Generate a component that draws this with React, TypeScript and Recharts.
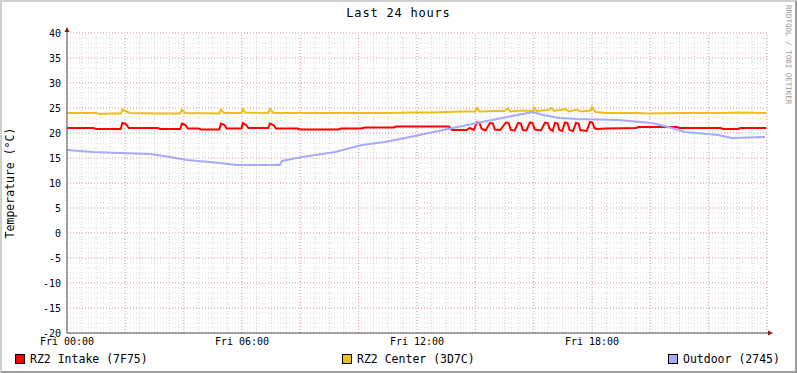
import React from 'react';
import { LineChart, Line, XAxis, YAxis, ReferenceLine, ReferenceDot } from 'recharts';

// hours since Fri 00:00 and temperatures
const intakeHours = [0, 0.9, 1.0, 1.84, 1.9, 2.02, 2.12, 3.1, 3.2, 3.88, 3.94, 4.06, 4.14, 4.5, 4.6, 5.22, 5.28, 5.4, 5.47, 5.98, 6.03, 6.14, 6.22, 6.9, 6.96, 7.08, 7.16, 7.9, 8.0, 9.3, 9.4, 10.1, 10.2, 11.2, 11.3, 13.1, 13.2, 13.7, 13.8, 13.95, 14.05, 14.14, 14.22, 14.35, 14.5, 14.6, 14.67, 14.85, 15.05, 15.14, 15.22, 15.35, 15.46, 15.56, 15.63, 15.75, 15.87, 15.96, 16.04, 16.25, 16.39, 16.48, 16.55, 16.65, 16.73, 16.82, 16.88, 16.98, 17.07, 17.16, 17.23, 17.35, 17.45, 17.54, 17.6, 17.82, 17.93, 18.02, 18.08, 18.15, 18.5, 19.5, 19.6, 20.9, 21.0, 22.4, 22.5, 23.0, 23.1, 23.97];
const intakeTemps = [21.0, 21.0, 20.8, 20.8, 22.0, 21.8, 21.0, 21.0, 20.8, 20.8, 21.9, 21.6, 20.9, 20.9, 20.7, 20.7, 21.9, 21.6, 20.9, 20.9, 22.0, 21.6, 21.0, 21.0, 21.9, 21.6, 20.9, 20.9, 20.7, 20.7, 20.9, 20.9, 21.1, 21.1, 21.3, 21.3, 20.6, 20.6, 21.0, 20.6, 22.1, 22.0, 20.8, 20.5, 22.0, 21.9, 20.7, 20.6, 22.1, 22.0, 20.6, 20.5, 22.0, 21.9, 20.6, 20.5, 22.1, 22.0, 20.7, 20.5, 22.1, 22.0, 20.8, 20.4, 22.0, 21.9, 20.6, 20.4, 22.1, 22.0, 20.6, 20.4, 22.0, 21.9, 20.6, 20.4, 22.2, 22.1, 21.0, 20.8, 20.9, 21.0, 21.2, 21.2, 21.0, 21.0, 20.8, 20.8, 21.0, 21.0];

const centerHours = [0, 1.0, 1.1, 1.5, 1.86, 1.9, 2.0, 2.15, 3.0, 3.88, 3.94, 4.05, 5.22, 5.28, 5.38, 5.98, 6.03, 6.12, 6.9, 6.96, 7.08, 9.0, 11.0, 11.8, 12.5, 13.0, 13.5, 14.0, 14.06, 14.15, 14.6, 15.0, 15.1, 15.2, 15.6, 15.98, 16.02, 16.1, 16.5, 16.6, 16.7, 17.1, 17.2, 17.5, 17.6, 17.95, 18.0, 18.12, 18.5, 19.5, 20.0, 21.0, 22.5, 23.0, 23.97];
const centerTemps = [24.0, 24.0, 23.8, 23.9, 23.9, 24.7, 24.4, 24.0, 23.9, 23.9, 24.7, 24.0, 23.9, 24.7, 24.0, 24.0, 24.8, 24.1, 24.0, 24.8, 24.0, 24.0, 24.0, 24.1, 24.1, 24.2, 24.3, 24.3, 25.0, 24.3, 24.4, 24.4, 24.9, 24.3, 24.5, 24.4, 25.1, 24.4, 24.6, 25.0, 24.4, 24.8, 24.3, 24.7, 24.3, 24.5, 25.2, 24.2, 24.0, 24.0, 23.9, 24.0, 24.0, 24.1, 24.0];

const outdoorHours = [0, 0.89, 1.82, 2.85, 3.53, 4.11, 4.9, 5.83, 7.3, 7.37, 8.06, 9.19, 10.11, 10.9, 11.93, 12.89, 14.06, 15.09, 15.98, 16.32, 16.9, 17.49, 18.89, 20.06, 20.61, 21.19, 22.32, 22.8, 23.93];
const outdoorTemps = [16.6, 16.2, 16.0, 15.8, 15.2, 14.6, 14.2, 13.6, 13.6, 14.4, 15.2, 16.2, 17.6, 18.2, 19.4, 20.6, 22.0, 23.2, 24.2, 23.6, 23.0, 22.8, 22.6, 22.0, 21.2, 20.2, 19.6, 19.0, 19.2];

const xTickHours = [0, 6, 12, 18];
const xTickLabels = ['Fri 00:00', 'Fri 06:00', 'Fri 12:00', 'Fri 18:00'];
const yTicks = [-20, -15, -10, -5, 0, 5, 10, 15, 20, 25, 30, 35, 40];
const minorY = Array.from({ length: 61 }, (_, i) => i - 20);
const minorX = Array.from({ length: 49 }, (_, i) => i / 2);
const majorX = [0, 2, 4, 6, 8, 10, 12, 14, 16, 18, 20, 22, 24];

const legendItems = [
  { label: 'RZ2 Intake (7F75)', color: '#ff0000', left: 15 },
  { label: 'RZ2 Center (3D7C)', color: '#eac117', left: 342 },
  { label: 'Outdoor (2745)', color: '#a9a9f9', left: 668 },
];

const toPoints = (hs: number[], vs: number[]) => hs.map((h, i) => ({ h, v: vs[i] }));

const mono = '"DejaVu Sans Mono", monospace';

const UpArrow = (p: any) => (
  <g>
    <line x1={p.cx} y1={p.cy} x2={p.cx} y2={p.cy - 3} stroke="#555" />
    <polygon points={`${p.cx - 2.5},${p.cy - 1} ${p.cx + 2.5},${p.cy - 1} ${p.cx},${p.cy - 6}`} fill="#8b1a1a" />
  </g>
);

const RightArrow = (p: any) => (
  <g>
    <line x1={p.cx} x2={p.cx + 3} y1={p.cy} y2={p.cy} stroke="#555" />
    <polygon points={`${p.cx + 1},${p.cy - 2.5} ${p.cx + 1},${p.cy + 2.5} ${p.cx + 6},${p.cy}`} fill="#8b1a1a" />
  </g>
);

const App = () => {
  return (
    <div
      style={{
        position: 'absolute', left: 0, top: 0, width: 797, height: 373, boxSizing: 'border-box',
        background: '#fff', borderTop: '2px solid #cfcfcf', borderLeft: '2px solid #cfcfcf',
        borderRight: '2px solid #9c9c9c', borderBottom: '2px solid #9c9c9c', fontFamily: mono,
      }}
    >
      <div style={{ position: 'absolute', left: -2, top: -2 }}>
        <LineChart width={797} height={373} margin={{ top: 33, right: 30, bottom: 0, left: 0 }}>
          {minorY.map((v) => (
            <ReferenceLine key={'my' + v} y={v} stroke="#d4d4d4" strokeDasharray="1 2" />
          ))}
          {minorX.map((v) => (
            <ReferenceLine key={'mx' + v} x={v} stroke="#d4d4d4" strokeDasharray="1 2" />
          ))}
          {yTicks.map((v) => (
            <ReferenceLine key={'My' + v} y={v} stroke="#e3a3a3" strokeDasharray="1 2" />
          ))}
          {majorX.map((v) => (
            <ReferenceLine key={'Mx' + v} x={v} stroke="#e3a3a3" strokeDasharray="1 2" />
          ))}
          <XAxis
            dataKey="h"
            type="number"
            domain={[0, 24]}
            ticks={xTickHours}
            tickFormatter={(v: number) => xTickLabels[xTickHours.indexOf(v)]}
            allowDuplicatedCategory={false}
            height={40}
            tickSize={2}
            tickMargin={3}
            tickLine={false}
            axisLine={{ stroke: '#555' }}
            tick={{ fontSize: 10, fill: '#000', fontFamily: mono }}
          />
          <YAxis
            dataKey="v"
            type="number"
            domain={[-20, 40]}
            ticks={yTicks}
            width={67}
            tickSize={4}
            tickMargin={2}
            tickLine={false}
            axisLine={{ stroke: '#555' }}
            tick={{ fontSize: 10, fill: '#000', fontFamily: mono }}
          />
          <Line data={toPoints(intakeHours, intakeTemps)} dataKey="v" type="linear" stroke="#ff0000" strokeWidth={2} dot={false} isAnimationActive={false} />
          <Line data={toPoints(centerHours, centerTemps)} dataKey="v" type="linear" stroke="#eac117" strokeWidth={2} dot={false} isAnimationActive={false} />
          <Line data={toPoints(outdoorHours, outdoorTemps)} dataKey="v" type="linear" stroke="#a9a9f9" strokeWidth={2} dot={false} isAnimationActive={false} />
          <ReferenceDot x={0} y={40} r={0} ifOverflow="visible" shape={UpArrow} />
          <ReferenceDot x={24} y={-20} r={0} ifOverflow="visible" shape={RightArrow} />
        </LineChart>
      </div>

      <div style={{ position: 'absolute', left: -2, top: 3, width: 797, textAlign: 'center', fontSize: 12, letterSpacing: 0.8, lineHeight: '16px', color: '#000' }}>
        Last 24 hours
      </div>

      <div style={{ position: 'absolute', left: 8, top: 181, width: 0, height: 0 }}>
        <div style={{ position: 'absolute', transform: 'translate(-50%, -50%) rotate(-90deg)', whiteSpace: 'nowrap', fontSize: 11.5, lineHeight: '14px', color: '#000' }}>
          Temperature (°C)
        </div>
      </div>

      <div style={{ position: 'absolute', left: 791, top: 3, transformOrigin: '0 0', transform: 'rotate(90deg)', whiteSpace: 'nowrap', fontSize: 7.5, lineHeight: '9px', color: '#999', letterSpacing: 0 }}>
        RRDTOOL / TOBI OETIKER
      </div>

      {legendItems.map((it) => (
        <div key={it.label} style={{ position: 'absolute', left: it.left - 2, top: 350, display: 'flex', alignItems: 'center', fontSize: 11.5, lineHeight: '14px', color: '#000', whiteSpace: 'nowrap' }}>
          <span style={{ display: 'inline-block', width: 8, height: 8, background: it.color, border: '1px solid #000', marginRight: 5 }} />
          {it.label}
        </div>
      ))}
    </div>
  );
};

export default App;
